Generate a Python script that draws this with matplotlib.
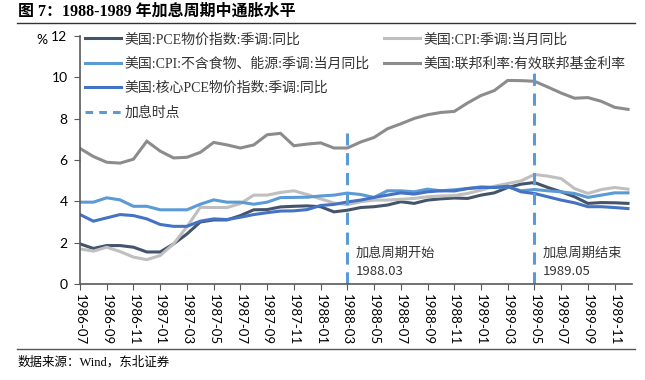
import matplotlib
matplotlib.use("Agg")
import matplotlib.pyplot as plt
from matplotlib.lines import Line2D

# 月份 1986-07 ~ 1989-12
months = []
for y in range(1986, 1990):
    for m in range(1, 13):
        if (y == 1986 and m < 7):
            continue
        months.append("%d-%02d" % (y, m))

pce = [1.94, 1.72, 1.86, 1.86, 1.78, 1.55, 1.55, 1.94, 2.42, 3.00, 3.10, 3.10,
       3.31, 3.59, 3.60, 3.73, 3.76, 3.78, 3.74, 3.49, 3.57, 3.70, 3.74, 3.82,
       3.98, 3.90, 4.06, 4.12, 4.16, 4.14, 4.30, 4.41, 4.67, 4.83, 4.91, 4.67,
       4.46, 4.22, 3.90, 3.94, 3.93, 3.90]
cpi = [1.70, 1.59, 1.78, 1.57, 1.30, 1.18, 1.38, 1.94, 2.77, 3.71, 3.70, 3.70,
       3.89, 4.30, 4.30, 4.43, 4.51, 4.33, 4.12, 3.92, 3.84, 3.98, 4.06, 4.06,
       4.10, 4.14, 4.22, 4.26, 4.28, 4.38, 4.54, 4.73, 4.86, 4.99, 5.30, 5.22,
       5.10, 4.62, 4.38, 4.57, 4.67, 4.59]
cpi_core = [3.96, 3.96, 4.17, 4.07, 3.76, 3.76, 3.59, 3.59, 3.59, 3.86, 4.07, 3.96,
            3.96, 3.86, 3.96, 4.18, 4.19, 4.20, 4.26, 4.30, 4.40, 4.33, 4.19, 4.51,
            4.51, 4.46, 4.59, 4.51, 4.56, 4.62, 4.70, 4.67, 4.70, 4.51, 4.57, 4.51,
            4.46, 4.38, 4.19, 4.30, 4.41, 4.41]
fed = [6.56, 6.17, 5.89, 5.85, 6.04, 6.91, 6.43, 6.10, 6.13, 6.37, 6.85, 6.73,
       6.58, 6.73, 7.22, 7.29, 6.69, 6.77, 6.83, 6.58, 6.58, 6.87, 7.09, 7.51,
       7.75, 8.01, 8.19, 8.30, 8.35, 8.76, 9.12, 9.36, 9.85, 9.84, 9.81, 9.53,
       9.24, 8.99, 9.02, 8.84, 8.55, 8.45]
core_pce = [3.36, 3.04, 3.20, 3.36, 3.31, 3.15, 2.88, 2.79, 2.79, 3.04, 3.15, 3.12,
            3.23, 3.36, 3.45, 3.53, 3.54, 3.60, 3.80, 3.85, 3.97, 4.06, 4.19, 4.30,
            4.41, 4.35, 4.46, 4.51, 4.50, 4.62, 4.67, 4.67, 4.73, 4.46, 4.38, 4.22,
            4.06, 3.93, 3.74, 3.74, 3.70, 3.65]

# 加息时点
hike_months = ["1988-03", "1989-05"]
hike_tops = [7.3, 10.4]
hike_text = ["加息周期开始\n1988.03", "加息周期结束\n1989.05"]

names = ["美国:PCE物价指数:季调:同比", "美国:CPI:季调:当月同比",
         "美国:CPI:不含食物、能源:季调:当月同比", "美国:联邦利率:有效联邦基金利率",
         "美国:核心PCE物价指数:季调:同比", "加息时点"]
colors = ["#44546A", "#BFBFBF", "#5B9BD5", "#8C8C8C", "#4472C4", "#5B9BD5"]

serif = ["Liberation Serif", "Noto Sans CJK SC"]
sans = ["Noto Sans CJK SC", "DejaVu Sans"]

fig = plt.figure(figsize=(6.45, 3.8), dpi=100)
ax = fig.add_axes([80/645, 1-284/380, 552/645, 248/380])

x = list(range(len(months)))
series = [pce, cpi, cpi_core, fed, core_pce]
lines = []
for s, c, n in zip(series, colors, names):
    l, = ax.plot(x, s, color=c, lw=2.2, label=n, solid_joinstyle="miter")
    lines.append(l)

for hm, top, t in zip(hike_months, hike_tops, hike_text):
    xi = months.index(hm)
    ax.plot([xi, xi], [0, top], color=colors[5], lw=2.2, dashes=(4, 2.5))
    ax.text(xi + 0.6, 1.05, t, fontsize=9.5, family=sans, color="#333333",
            va="center", linespacing=1.55)

ax.set_xlim(0, 41.3)
ax.set_ylim(0, 12)
ax.set_yticks(range(0, 13, 2))
ax.set_xticks(x[::2])
ax.set_xticklabels(months[::2], rotation=-90, family="Lato", fontsize=9.5)
for lab in ax.get_yticklabels():
    lab.set_family("Lato")
    lab.set_fontsize(10)
ax.tick_params(axis="y", length=4, pad=5, color="#595959")
ax.tick_params(axis="x", length=4, pad=3, color="#595959")
for sp in ["top", "right"]:
    ax.spines[sp].set_visible(False)
for sp in ["left", "bottom"]:
    ax.spines[sp].set_color("#595959")
    ax.spines[sp].set_linewidth(1.2)

fig.text(42/645, 1-40/380, "%", fontsize=10, family="Lato", ha="center", va="center")

dash_handle = Line2D([], [], color=colors[5], lw=2.2, dashes=(2.5, 2))
h1 = [lines[0], lines[2], lines[4], dash_handle]
h2 = [lines[1], lines[3]]
kw = dict(frameon=False, borderpad=0, borderaxespad=0, handlelength=2.6,
          handletextpad=0.25, labelspacing=0.8, prop={"family": serif, "size": 10})
leg1 = fig.legend(h1, [names[0], names[2], names[4], names[5]],
                  loc="upper left", bbox_to_anchor=(85/645, 1-33/380), **kw)
leg2 = fig.legend(h2, [names[1], names[3]],
                  loc="upper left", bbox_to_anchor=(384/645, 1-33/380), **kw)
for t in leg1.get_texts() + leg2.get_texts():
    t.set_color("#333333")

# 标题、来源
fig.text(18/645, 1-12/380, "图 7：1988-1989 年加息周期中通胀水平", fontsize=11.5,
         family=serif, weight="bold", va="center")
fig.add_artist(Line2D([17/645, 635/645], [1-23/380, 1-23/380], color="#333333", lw=1))
fig.add_artist(Line2D([17/645, 635/645], [1-349/380, 1-349/380], color="#555555", lw=1))
fig.text(18/645, 1-362/380, "数据来源：Wind，东北证券", fontsize=9, family=serif,
         va="center")

fig.savefig("out.png", dpi=100)
